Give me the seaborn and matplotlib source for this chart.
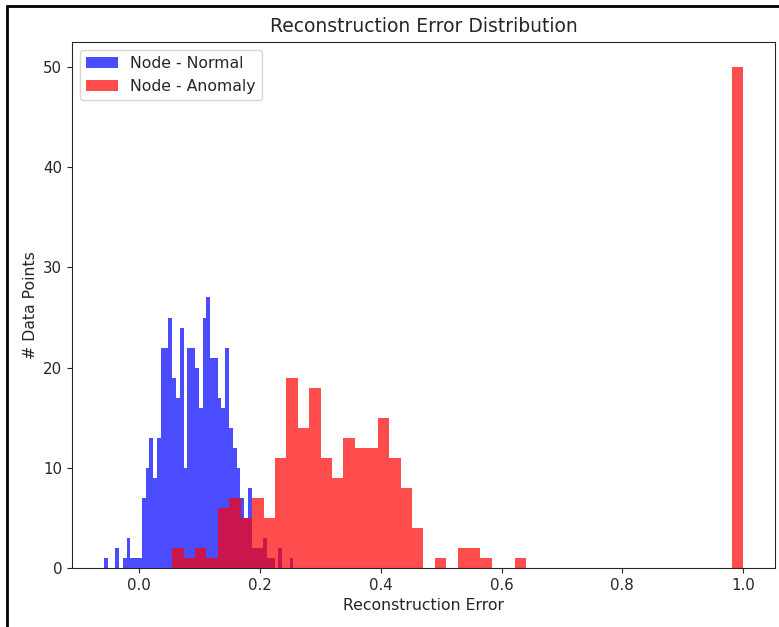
import numpy as np
import matplotlib
matplotlib.use("Agg")
import matplotlib.pyplot as plt
from matplotlib.lines import Line2D
import seaborn as sns

# ── Histogram counts (50 equal-width bins each) ────────────────────────────
normal_counts = [1, 0, 0, 2, 0, 1, 3, 1, 1, 1,
                 7, 10, 13, 9, 13, 22, 22, 25, 19, 17,
                 24, 10, 22, 22, 20, 16, 25, 27, 21, 21,
                 17, 16, 22, 14, 12, 10, 7, 5, 8, 2,
                 2, 2, 3, 1, 1, 0, 2, 0, 0, 1]
normal_range = (-0.0584, 0.2555)

anomaly_counts = [2, 1, 2, 1, 6, 7, 5, 7, 5, 11,
                  19, 14, 18, 11, 9, 13, 12, 12, 15, 11,
                  8, 4, 0, 1, 0, 2, 2, 1, 0, 0,
                  1, 0, 0, 0, 0, 0, 0, 0, 0, 0,
                  0, 0, 0, 0, 0, 0, 0, 0, 0, 50]
anomaly_range = (0.0546, 1.0)

series = [
    ("Node - Normal", normal_counts, normal_range, "blue"),
    ("Node - Anomaly", anomaly_counts, anomaly_range, "red"),
]

sns.set_style("ticks")
plt.rcParams["font.family"] = ["DejaVu Sans"]

W, H = 779, 627
fig = plt.figure(figsize=(W / 100, H / 100), dpi=100)
ax = fig.add_axes([72 / W, 1 - 568 / H, (775 - 72) / W, (568 - 42) / H])

for label, counts, rng, color in series:
    edges = np.linspace(rng[0], rng[1], len(counts) + 1)
    centers = (edges[:-1] + edges[1:]) / 2
    sns.histplot(x=centers, weights=counts, bins=list(edges), color=color,
                 alpha=0.7, linewidth=0, edgecolor="none", label=label, ax=ax)

ax.set_title("Reconstruction Error Distribution", fontsize=13.5, pad=7)
ax.set_xlabel("Reconstruction Error", fontsize=11.3)
ax.set_ylabel("# Data Points", fontsize=11.3)
ax.tick_params(labelsize=10.8)
ax.legend(loc="upper left", fontsize=11.3)

# screenshot frame (left and top edges)
fig.add_artist(Line2D([7 / W, 7 / W], [0, 1 - 6 / H], transform=fig.transFigure,
                      color="black", lw=2))
fig.add_artist(Line2D([7 / W, 1], [1 - 6 / H, 1 - 6 / H], transform=fig.transFigure,
                      color="black", lw=2))

fig.savefig("out.png", dpi=100)
